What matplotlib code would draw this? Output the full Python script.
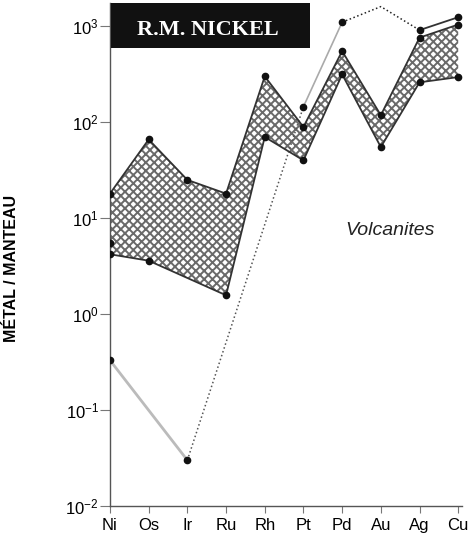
import numpy as np
import matplotlib
matplotlib.use("Agg")
import matplotlib.pyplot as plt
from matplotlib.patches import Rectangle

plt.rcParams['font.family'] = ['Liberation Sans', 'DejaVu Sans']
plt.rcParams['mathtext.fontset'] = 'custom'
plt.rcParams['mathtext.rm'] = 'Liberation Sans'
plt.rcParams['hatch.linewidth'] = 1.4

#--------------------------------------------------Data----------------------------------------------------------------#
elements = ["Ni", "Os", "Ir", "Ru", "Rh", "Pt", "Pd", "Au", "Ag", "Cu"]

# volcanites field, upper and lower limits
upper = [18, 66, 25, 18, 300, 89, 550, 118, 760, 1040]
lower = [4.2, 3.6, np.nan, 1.57, 70, 40, 315, 55, 260, 295]

# extra point inside the field at Ni
ni_extra = [5.5]

# R.M. Nickel composition
nickel = [0.33, np.nan, 0.030, np.nan, np.nan, 145, 1100, 1600, 910, 1240]

#--------------------------------------------------Plot----------------------------------------------------------------#
fig = plt.figure(figsize=(4.72, 5.41), dpi=100)
ax = fig.add_axes([0.233, 0.0647, 0.746, 0.93])

x = np.arange(len(elements))
up = np.array(upper, dtype=float)
lo = np.array(lower, dtype=float)
ok = ~np.isnan(lo)

# hatched field
px = np.concatenate([x, x[ok][::-1]])
py = np.concatenate([up, lo[ok][::-1]])
ax.fill(px, py, facecolor='white', edgecolor='#6a6a6a', hatch='xxxx', linewidth=0, zorder=1)

ax.plot(x, up, '-', color='#333333', lw=1.3, zorder=3)
ax.plot(x[ok], lo[ok], '-', color='#333333', lw=1.3, zorder=3)
ax.plot(x, up, 'o', color='#111111', ms=4.5, zorder=5)
ax.plot(x[ok], lo[ok], 'o', color='#111111', ms=4.5, zorder=5)
ax.plot([0], ni_extra, 'o', color='#111111', ms=4.5, zorder=5)

# nickel line, segment by segment
nk = np.array(nickel, dtype=float)
nv = ~np.isnan(nk)
xn = x[nv]
yn = nk[nv]
ax.plot(xn[0:2], yn[0:2], '-', color='#bbbbbb', lw=2.0, zorder=2)
ax.plot(xn[1:3], yn[1:3], ':', color='#555555', lw=1.1, zorder=2)
ax.plot(xn[2:4], yn[2:4], '-', color='#aaaaaa', lw=1.2, zorder=2)
ax.plot(xn[3:6], yn[3:6], ':', color='#222222', lw=1.1, zorder=2)
ax.plot(xn[5:7], yn[5:7], '-', color='#333333', lw=1.3, zorder=2)
mk = [i for i in range(len(xn)) if elements[xn[i]] != "Au"]
ax.plot(xn[mk], yn[mk], 'o', color='#111111', ms=4.5, zorder=5)

ax.set_yscale('log')
ax.set_ylim(1e-2, 1750)
ax.set_xlim(0, 9.1)
ax.set_xticks(x)
ax.set_xticklabels(elements)
ax.set_yticks([1e-2, 1e-1, 1e0, 1e1, 1e2, 1e3])
ax.yaxis.set_minor_locator(matplotlib.ticker.NullLocator())

for s in ['top', 'right']:
    ax.spines[s].set_visible(False)
for s in ['left', 'bottom']:
    ax.spines[s].set_color('#555555')
    ax.spines[s].set_linewidth(1.0)
ax.tick_params(axis='y', direction='out', length=7, width=0.8, color='#777777', labelsize=12, pad=1)
ax.tick_params(axis='x', direction='out', length=5, width=0.8, color='#777777', labelsize=12, pad=4)

ax.text(0.795, 0.547, "Volcanites", transform=ax.transAxes, fontsize=14, style='italic',
        ha='center', va='center', color='#222222')

fig.text(12/472, 1 - 268/541, "MÉTAL / MANTEAU", rotation=90, fontsize=11.5, fontweight='bold',
         ha='center', va='center')

# title box
fig.patches.append(Rectangle((111/472, 1 - 48/541), 199/472, 45/541, transform=fig.transFigure,
                             facecolor='#111111', edgecolor='none', zorder=10))
fig.text(208/472, 1 - 30/541, "R.M. NICKEL", color='white', fontsize=16, fontweight='bold',
         family='Liberation Serif', ha='center', va='center', zorder=11)

plt.savefig("out.png", dpi=100)
